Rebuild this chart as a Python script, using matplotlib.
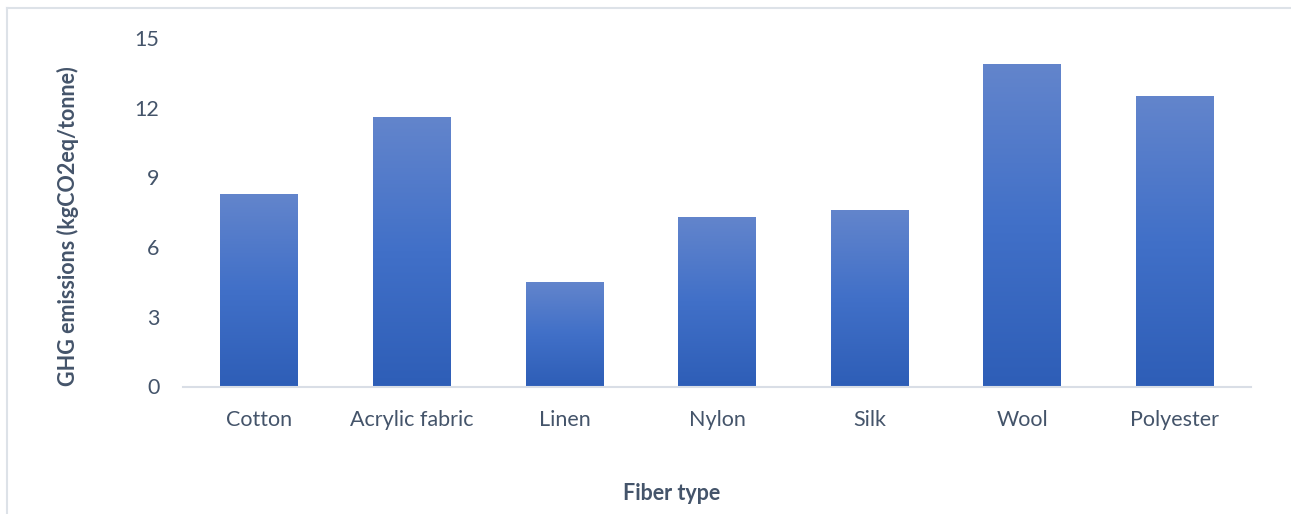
import numpy as np
import matplotlib.pyplot as plt
from matplotlib.colors import LinearSegmentedColormap
from matplotlib.lines import Line2D

# Data
fibers = ["Cotton", "Acrylic fabric", "Linen", "Nylon", "Silk", "Wool", "Polyester"]
emissions = [8.3, 11.6, 4.5, 7.3, 7.6, 13.9, 12.5]
y_ticks = [0, 3, 6, 9, 12, 15]

text_color = "#44546A"
plt.rcParams['font.family'] = ['Lato', 'DejaVu Sans']

fig = plt.figure(figsize=(12.91, 5.14), dpi=100)
ax = fig.add_axes([183 / 1291, 1 - 386.5 / 514, (1251 - 183) / 1291, (386.5 - 38) / 514])

bars = ax.bar(fibers, emissions, width=0.51, color="#4472C4", zorder=2)

# Vertical gradient fill, light on top, dark at the bottom
grad_cmap = LinearSegmentedColormap.from_list("bar_grad", ["#2E5EB7", "#4170C8", "#6385CC"])
grad = np.linspace(0, 1, 256).reshape(-1, 1)
for bar in bars:
    x0, y0 = bar.get_x(), bar.get_y()
    w, h = bar.get_width(), bar.get_height()
    im = ax.imshow(grad, cmap=grad_cmap, origin="lower", aspect="auto",
                   extent=(x0, x0 + w, y0, y0 + h), zorder=3)
    im.set_clip_path(bar)

ax.set_xlim(-0.5, len(fibers) - 0.5)
ax.set_ylim(0, 15)
ax.set_yticks(y_ticks)
ax.set_yticklabels([str(t) for t in y_ticks])

for side in ["top", "right", "left"]:
    ax.spines[side].set_visible(False)
ax.spines["bottom"].set_color("#D9DEE6")
ax.spines["bottom"].set_linewidth(1.5)
ax.spines["bottom"].set_zorder(4)

ax.tick_params(axis="both", length=0, labelsize=15.5, colors=text_color)
ax.tick_params(axis="x", pad=17)
ax.tick_params(axis="y", pad=17)

fig.text(68 / 1291, 1 - 226 / 514, "GHG emissions (kgCO2eq/tonne)", rotation=90,
         ha="center", va="center", fontsize=15.5, fontweight="bold", color=text_color)
fig.text(672 / 1291, 1 - 494 / 514, "Fiber type", ha="center", va="center",
         fontsize=15.5, fontweight="bold", color=text_color)

# Chart frame: only top and left edges are visible in the crop
border = "#DDE2E8"
fig.add_artist(Line2D([7 / 1291, 1], [1 - 8 / 514, 1 - 8 / 514], color=border, lw=1.5,
                      transform=fig.transFigure))
fig.add_artist(Line2D([7 / 1291, 7 / 1291], [0, 1 - 8 / 514], color=border, lw=1.5,
                      transform=fig.transFigure))

fig.savefig("out.png", dpi=100)
